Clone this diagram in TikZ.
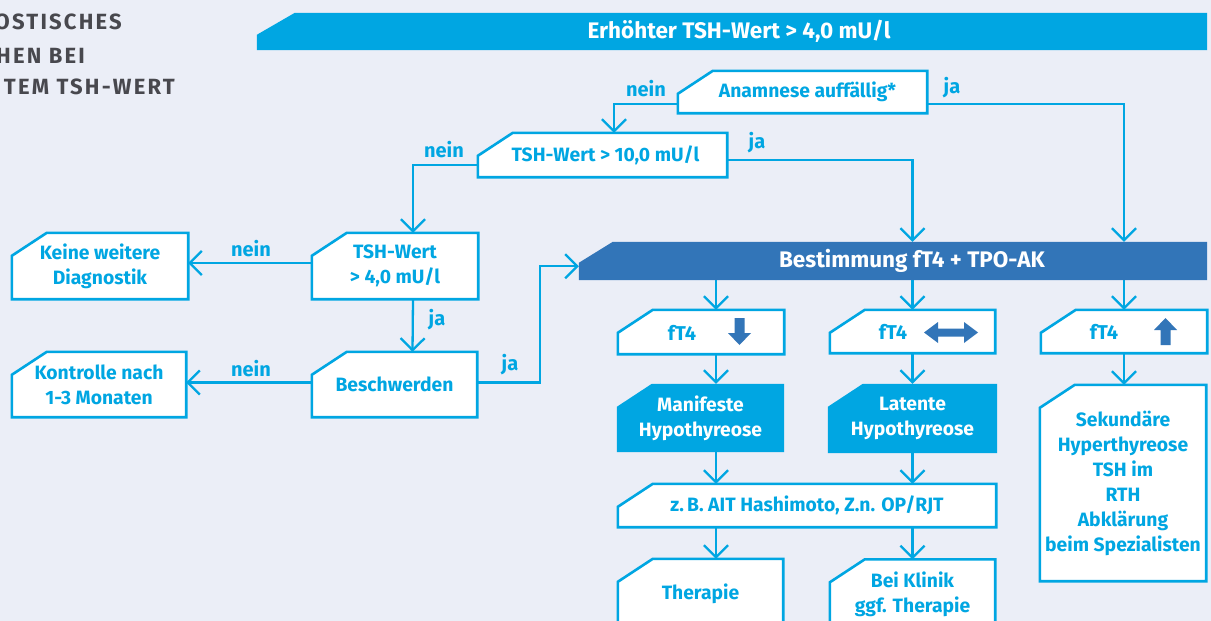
\documentclass[tikz,border=0pt]{standalone}
\usepackage{fontspec}
\setmainfont{Fira Sans}
\usetikzlibrary{calc, arrows.meta}

\definecolor{bgcol}{RGB}{235,238,247}
\definecolor{cyanbl}{RGB}{0,166,226}
\definecolor{darkbl}{RGB}{50,117,184}
\definecolor{titlegray}{RGB}{72,72,78}

\pgfdeclarelayer{shapes}
\pgfsetlayers{shapes,main}

\newcommand{\boxfont}{\bfseries\fontsize{19.3}{25}\selectfont}
\newcommand{\barfont}{\bfseries\fontsize{22.5}{27}\selectfont}

% outline with the cut top-left corner, drawn behind the node text
\newcommand{\cutout}[4]{%
  \begin{pgfonlayer}{shapes}
    \path[#4] ([xshift=#2pt]#1.north west) -- (#1.north east) -- (#1.south east)
      -- (#1.south west) -- ([yshift=-#3pt]#1.north west) -- cycle;
  \end{pgfonlayer}}

\tikzset{
  box/.style={rectangle, inner sep=0pt, align=center, text=cyanbl, font=\boxfont},
  solidbox/.style={box, text=white},
  bar/.style={rectangle, inner sep=0pt, text=white, font=\barfont},
  boxline/.style={draw=cyanbl, line width=2.6pt, fill=white},
  conn/.style={draw=cyanbl, line width=2.3pt, -{Straight Barb[length=12pt,width=24pt]}},
  lbl/.style={text=cyanbl, font=\bfseries\fontsize{20}{24}\selectfont, inner sep=0pt},
  title/.style={text=titlegray, inner sep=0pt,
    font=\bfseries\fontsize{22}{32}\selectfont\addfontfeatures{LetterSpace=10}},
}

\begin{document}
\begin{tikzpicture}[x=1pt, y=-1pt]
    % --- Canvas ---
    \useasboundingbox (0,0) rectangle (1211,621);
    \begin{pgfonlayer}{shapes}
      \fill[bgcol] (0,0) rectangle (1211,621);
    \end{pgfonlayer}

    % --- Columns of the lower part ---
    \coordinate (colA) at (716,0);
    \coordinate (colB) at (912.5,0);
    \coordinate (colC) at (1124,0);

    % 1. Title (cut at the left edge)
    \node[title, anchor=base east] (tA) at (122,30) {OSTISCHES};
    \node[title, anchor=base east] (tB) at (85,63) {HEN BEI};
    \node[title, anchor=base east] (tC) at (175,94) {TEM TSH-WERT};

    % 2. Bars
    \node[bar, minimum width=950pt, minimum height=37pt] (hdr) at (732,31.5)
         {\hspace*{14pt}Erhöhter TSH-Wert > 4,0 mU/l};
    \node[bar, minimum width=628pt, minimum height=38pt] (best) at (893,261)
         {\hspace*{38pt}Bestimmung fT4 + TPO-AK};

    % 3. Left part
    \node[box, minimum width=249pt, minimum height=42pt] (anam) at (802.5,92) {\hspace*{10pt}Anamnese auffällig*};
    \node[box, minimum width=249pt, minimum height=44pt] (tsh10) at (602.5,155) {\hspace*{6pt}TSH-Wert > 10,0 mU/l};
    \node[box, minimum width=166pt, minimum height=66pt] (tsh4) at (395,266) {TSH-Wert\\> 4,0 mU/l};
    \node[box, minimum width=165pt, minimum height=65pt] (besch) at (394.5,384.5) {Beschwerden};
    \node[box, minimum width=176pt, minimum height=66pt] (keine) at (100,266) {Keine weitere\\Diagnostik};
    \node[box, minimum width=174pt, minimum height=65pt] (kontr) at (99,384.5) {Kontrolle nach\\1-3 Monaten};

    % 4. Right part
    \node[box, minimum width=166pt, minimum height=44pt] (ft4a) at (701,332) {};
    \node[box, minimum width=165pt, minimum height=43pt] (ft4b) at (912.5,331.5) {};
    \node[box, minimum width=166pt, minimum height=43pt] (ft4c) at (1124,331.5) {};
    \node[solidbox, minimum width=167pt, minimum height=68pt] (mani) at (700.5,418) {Manifeste\\Hypothyreose};
    \node[solidbox, minimum width=169pt, minimum height=69pt] (lat) at (912.5,418.5) {Latente\\Hypothyreose};
    \node[box, minimum width=378pt, minimum height=43pt] (zb) at (807,505.5) {z.\,B. AIT Hashimoto, Z.n. OP/RJT};
    \node[box, minimum width=165pt, minimum height=70pt] (ther) at (700.5,594) {Therapie};
    \node[box, minimum width=165pt, minimum height=70pt] (klin) at (912.5,594.5) {Bei Klinik\\ggf. Therapie};
    \node[box, minimum width=166pt, minimum height=196pt] (sek) at (1123,483)
         {Sekundäre\\Hyperthyreose\\TSH im\\RTH\\Abklärung\\beim Spezialisten};

    % outlines and fills
    \cutout{hdr}{38}{22}{fill=cyanbl}
    \cutout{best}{34}{21}{fill=darkbl}
    \foreach \n in {anam,tsh10,tsh4,besch,keine,kontr,ft4a,ft4b,ft4c,zb,ther,klin,sek}
      {\cutout{\n}{35}{23}{boxline}}
    \foreach \n in {mani,lat}
      {\cutout{\n}{35}{23}{fill=cyanbl}}

    % 5. fT4 labels and arrow signs
    \node[lbl] (fa) at (682,333) {fT4};
    \node[lbl] (fb) at (893,332) {fT4};
    \node[lbl] (fc) at (1104,332) {fT4};
    \fill[darkbl] (734.5,318) -- (744.5,318) -- (744.5,333) -- (751,333) -- (739.5,345)
        -- (728,333) -- (734.5,333) -- cycle;
    \fill[darkbl] (924,332.5) -- (938,322) -- (938,328.5) -- (964,328.5) -- (964,322)
        -- (978,332.5) -- (964,343) -- (964,336.5) -- (938,336.5) -- (938,343) -- cycle;
    \fill[darkbl] (1160.5,345) -- (1170.5,345) -- (1170.5,330) -- (1177,330) -- (1165.5,318)
        -- (1154,330) -- (1160.5,330) -- cycle;

    % 6. Connectors
    \draw[conn] ([yshift=9pt]anam.south west) -| ([xshift=11.5pt]tsh10.north);
    \draw[conn] ([yshift=9pt]anam.south east) -| (best.north -| colC);
    \draw[conn] ([yshift=12pt]tsh10.south west) -| ([xshift=18pt]tsh4.north);
    \draw[conn] ([yshift=17pt]tsh10.south east) -| (best.north -| colB);
    \draw[conn] ([yshift=3pt]tsh4.west) -- ([yshift=3pt]keine.east);
    \draw[conn] ([xshift=18pt]tsh4.south) -- ([xshift=18pt]besch.north);
    \draw[conn] ([yshift=2pt]besch.west) -- ([yshift=2pt]kontr.east);
    \draw[conn] ([yshift=2pt]besch.east) -- ++(63,0) |- ([yshift=14pt]best.south west);
    \draw[conn] (best.south -| colA) -- (ft4a.north -| colA);
    \draw[conn] (best.south -| colB) -- (ft4b.north -| colB);
    \draw[conn] (best.south -| colC) -- (ft4c.north -| colC);
    \draw[conn] (ft4a.south -| colA) -- (mani.north -| colA);
    \draw[conn] (ft4b.south -| colB) -- (lat.north -| colB);
    \draw[conn] (ft4c.south -| colC) -- (sek.north -| colC);
    \draw[conn] (mani.south -| colA) -- (zb.north -| colA);
    \draw[conn] (lat.south -| colB) -- (zb.north -| colB);
    \draw[conn] (zb.south -| colA) -- (ther.north -| colA);
    \draw[conn] (zb.south -| colB) -- (klin.north -| colB);

    % 7. Branch labels
    \node[lbl] (n1) at (646,89) {nein};
    \node[lbl] (j1) at (952,88) {ja};
    \node[lbl] (n2) at (444,150) {nein};
    \node[lbl] (j2) at (757,143) {ja};
    \node[lbl] (n3) at (251,249) {nein};
    \node[lbl] (j3) at (437,320) {ja};
    \node[lbl] (n4) at (251,369) {nein};
    \node[lbl] (j4) at (510,365) {ja};
\end{tikzpicture}
\end{document}
